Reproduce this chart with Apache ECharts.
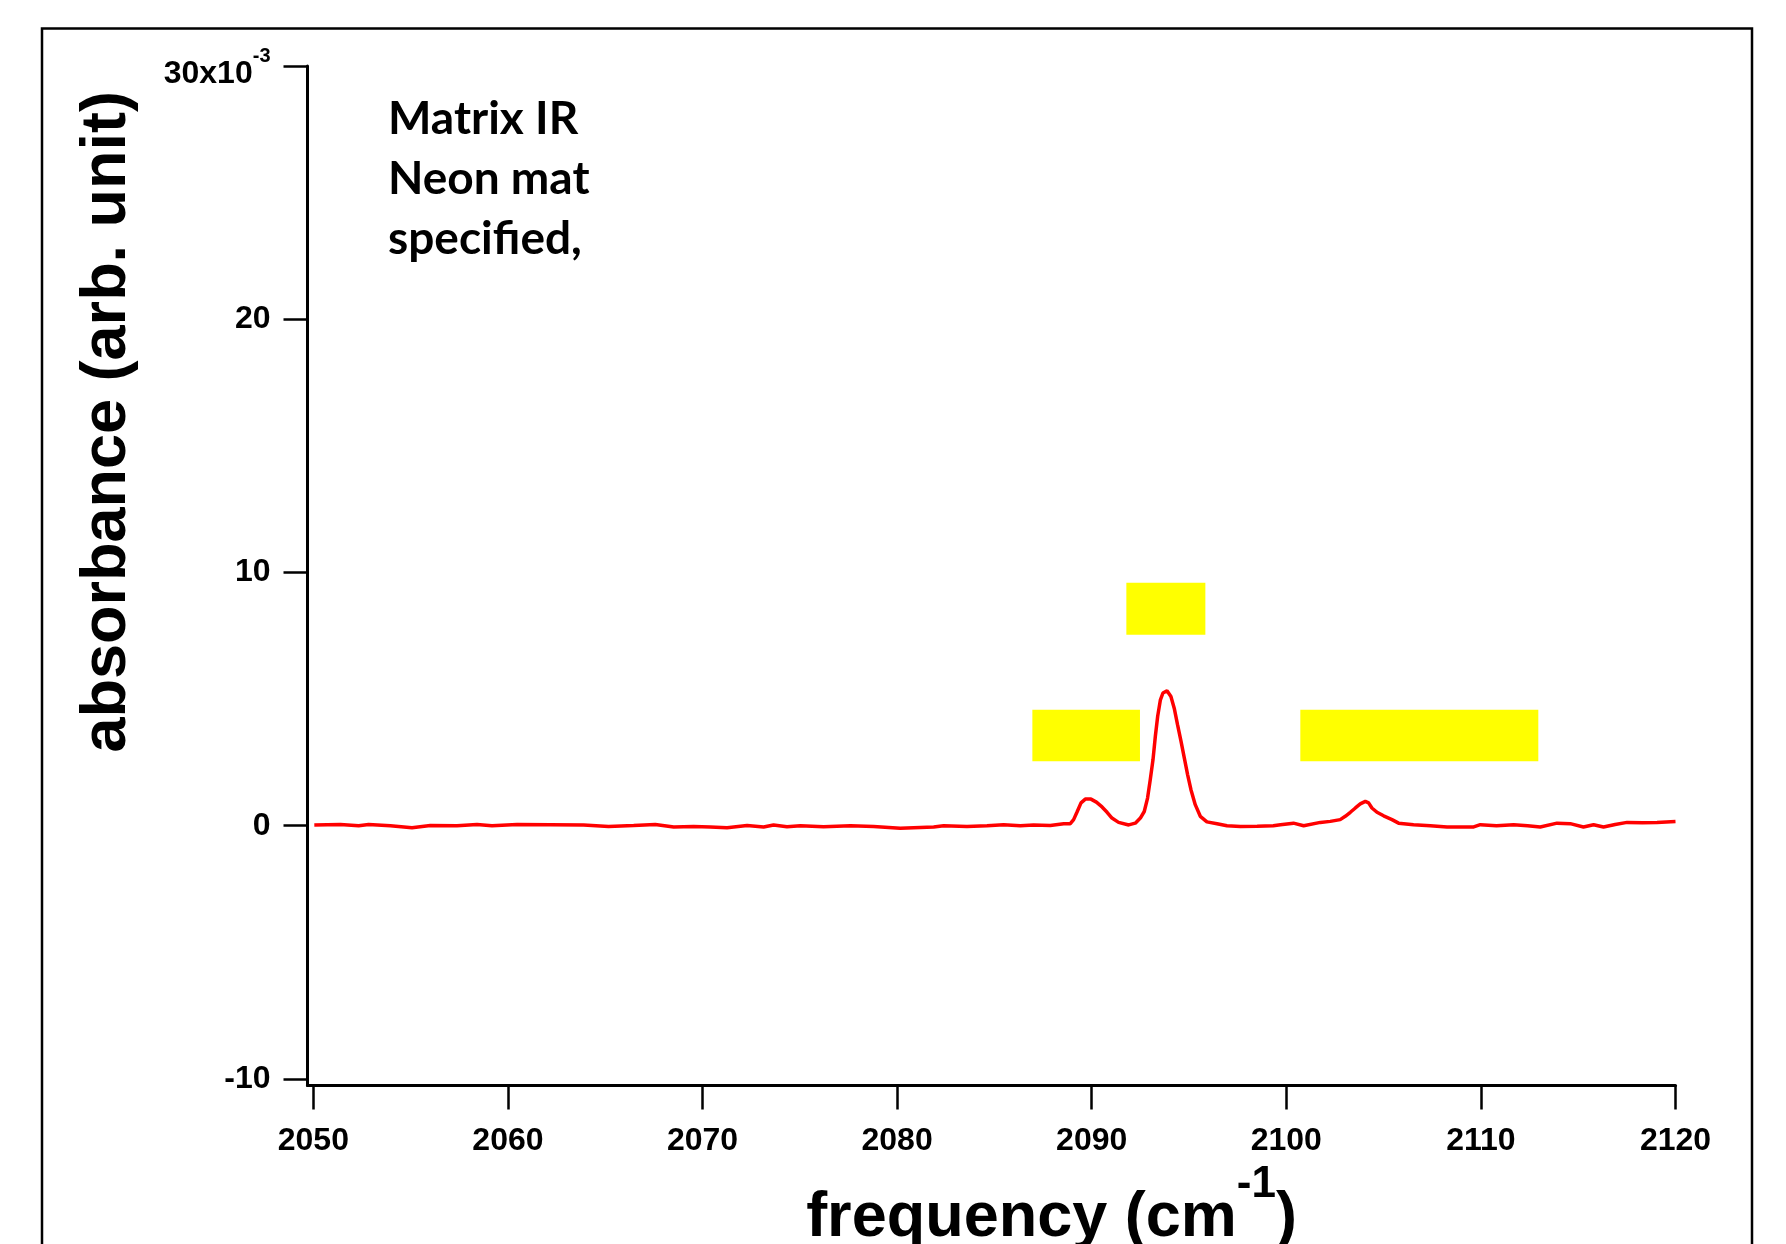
<!DOCTYPE html>
<html>
<head>
<meta charset="utf-8">
<style>
  html, body { margin: 0; padding: 0; background: #fff; }
  #container { width: 1786px; height: 1244px; }
</style>
<script src="https://cdn.jsdelivr.net/npm/echarts@6/dist/echarts.min.js"></script>
</head>
<body>
<div id="container"></div>
<script>
var dom = document.getElementById("container");
var myChart = echarts.init(dom);

// spectrum, frequency in cm-1, absorbance in units of 1e-3
var freq = [
  2050.05, 2051.39, 2052.33, 2052.84, 2053.96, 2055.07, 2056.01, 2057.38, 2058.41, 2059.18,
  2060.47, 2062.18, 2063.89, 2065.17, 2066.46, 2067.57, 2068.52, 2069.54, 2070.4, 2071.26,
  2072.29, 2073.14, 2073.65, 2074.34, 2075.03, 2076.22, 2077.6, 2078.79, 2080.16, 2081.88,
  2082.39, 2083.59, 2084.62, 2085.47, 2086.33, 2087.01, 2087.87, 2088.56, 2088.9, 2089.07,
  2089.24, 2089.45, 2089.67, 2089.96, 2090.24, 2090.53, 2090.79, 2091.04, 2091.38, 2091.9,
  2092.24, 2092.5, 2092.7, 2092.87, 2093.01, 2093.15, 2093.27, 2093.39, 2093.53, 2093.66,
  2093.87, 2094.07, 2094.24, 2094.41, 2094.59, 2094.76, 2094.93, 2095.1, 2095.32, 2095.58,
  2095.92, 2096.44, 2096.95, 2097.64, 2098.5, 2099.33, 2099.7, 2100.37, 2100.89, 2101.75,
  2102.26, 2102.77, 2103.03, 2103.29, 2103.55, 2103.8, 2104.06, 2104.23, 2104.4, 2104.66,
  2105.0, 2105.43, 2105.77, 2106.54, 2107.4, 2108.26, 2109.63, 2109.97, 2110.8, 2111.68,
  2112.4, 2113.05, 2113.91, 2114.59, 2115.27, 2115.79, 2116.3, 2116.9, 2117.51, 2118.3,
  2119.05, 2120.0
];
var absorb = [
  0.03, 0.05, 0.0, 0.05, 0.0, -0.08, 0.01, 0.0, 0.05, 0.0,
  0.05, 0.04, 0.03, -0.03, 0.01, 0.05, -0.05, -0.03, -0.05, -0.08,
  0.01, -0.05, 0.03, -0.04, 0.0, -0.04, 0.0, -0.03, -0.1, -0.05,
  0.0, -0.03, 0.0, 0.04, 0.0, 0.03, 0.01, 0.08, 0.08, 0.24,
  0.53, 0.9, 1.05, 1.05, 0.93, 0.74, 0.53, 0.3, 0.13, 0.03,
  0.1, 0.3, 0.56, 1.09, 1.82, 2.61, 3.53, 4.32, 4.97, 5.24,
  5.33, 5.1, 4.64, 3.99, 3.33, 2.67, 2.01, 1.42, 0.83, 0.37,
  0.15, 0.08, 0.0, -0.03, -0.02, 0.0, 0.04, 0.1, 0.0, 0.13,
  0.17, 0.24, 0.37, 0.53, 0.7, 0.86, 0.96, 0.9, 0.7, 0.53,
  0.39, 0.24, 0.1, 0.04, 0.0, -0.05, -0.05, 0.04, 0.0, 0.04,
  0.0, -0.05, 0.1, 0.08, -0.05, 0.04, -0.05, 0.05, 0.13, 0.12,
  0.13, 0.17
];

var xTicks = [2050, 2060, 2070, 2080, 2090, 2100, 2110, 2120];
var yTicks = [-10, 0, 10, 20, 30];

// yellow masks over the peak labels: [x0, x1, y0, y1] in data units
var masks = [
  [2086.95, 2092.48, 2.54, 4.58],
  [2091.78, 2095.84, 7.54, 9.59],
  [2100.72, 2112.95, 2.54, 4.58]
];

var noteLines = ['Matrix IR', 'Neon mat', 'specified,'];

var points = freq.map(function (f, i) { return [f, absorb[i]]; });

var option = {
  animation: false,
  backgroundColor: '#fff',
  textStyle: { fontFamily: 'Liberation Sans, Arial, sans-serif' },
  grid: { left: 307.5, right: 110.5, top: 66, bottom: 158.5, outerBoundsMode: 'none', containLabel: false },
  xAxis: {
    type: 'value',
    min: 2049.7,
    max: 2120,
    name: '{a|frequency (cm}{b|-1}{a|)}',
    nameLocation: 'middle',
    nameGap: 77,
    nameTextStyle: {
      padding: [0, 0, 0, 120],
      rich: {
        a: { fontSize: 63, fontWeight: 'bold', color: '#000', lineHeight: 63 },
        b: { fontSize: 44, fontWeight: 'bold', color: '#000', lineHeight: 44, padding: [0, 0, 69, 0] }
      }
    },
    axisLine: { onZero: false, lineStyle: { color: '#000', width: 3 } },
    axisTick: { length: 24, lineStyle: { color: '#000', width: 2.5 }, customValues: xTicks },
    axisLabel: {
      customValues: xTicks,
      margin: 40,
      fontSize: 32,
      fontWeight: 'bold',
      color: '#000',
      formatter: function (v) { return String(v); }
    },
    splitLine: { show: false }
  },
  yAxis: {
    type: 'value',
    min: -10.26,
    max: 30,
    name: 'absorbance (arb. unit)',
    nameLocation: 'middle',
    nameRotate: 90,
    nameGap: 168,
    nameTextStyle: {
      fontSize: 63,
      fontWeight: 'bold',
      color: '#000',
      padding: [0, 0, 0, 308]
    },
    axisLine: { onZero: false, lineStyle: { color: '#000', width: 3 } },
    axisTick: { length: 24, lineStyle: { color: '#000', width: 2.5 }, customValues: yTicks },
    axisLabel: {
      customValues: yTicks,
      margin: 37,
      fontSize: 32,
      fontWeight: 'bold',
      color: '#000',
      formatter: function (v) {
        if (v === 30) return '{m|30x10}{s|-3}';
        return String(v);
      },
      rich: {
        m: { fontSize: 32, fontWeight: 'bold', color: '#000', lineHeight: 32, padding: [16, 0, 0, 0] },
        s: { fontSize: 20, fontWeight: 'bold', color: '#000', lineHeight: 20, padding: [0, 0, 20, 0] }
      }
    },
    splitLine: { show: false }
  },
  graphic: [
    {
      type: 'rect',
      z: -10,
      shape: { x: 42, y: 28.5, width: 1710, height: 1400 },
      style: { fill: 'none', stroke: '#000', lineWidth: 2.5 }
    },
    {
      type: 'text',
      left: 388,
      top: 89,
      style: {
        text: noteLines.join('\n'),
        font: 'bold 46px Lato',
        fill: '#000',
        lineHeight: 60
      }
    }
  ],
  series: [
    {
      type: 'line',
      data: points,
      symbol: 'none',
      lineStyle: { color: '#ff0000', width: 3.5 },
      markArea: {
        silent: true,
        itemStyle: { color: '#ffff00', opacity: 1 },
        data: masks.map(function (m) {
          return [{ coord: [m[0], m[3]] }, { coord: [m[1], m[2]] }];
        })
      }
    }
  ]
};

myChart.setOption(option);
</script>
</body>
</html>
